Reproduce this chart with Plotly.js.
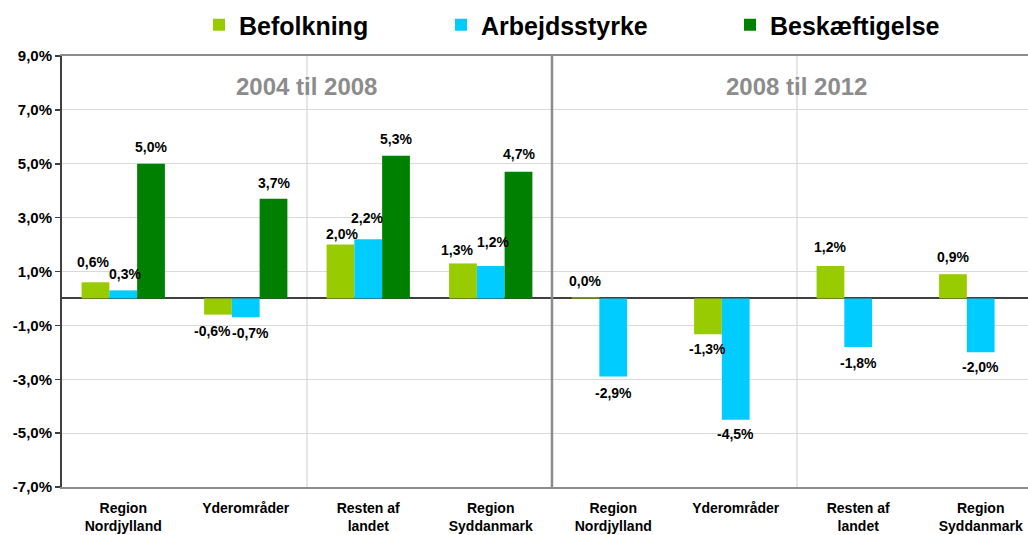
<!DOCTYPE html>
<html>
<head>
<meta charset="utf-8">
<script src="https://cdn.plot.ly/plotly-3.0.1.min.js"></script>
<style>html,body{margin:0;padding:0;background:#fff}#chart{width:1028px;height:535px}</style>
</head>
<body>
<div id="chart"></div>
<script>
// ---- data ----
const categories = ['Region<br>Nordjylland','Yderområder','Resten af<br>landet','Region<br>Syddanmark',
                    'Region<br>Nordjylland','Yderområder','Resten af<br>landet','Region<br>Syddanmark'];
const periods = ['2004 til 2008','2008 til 2012'];
const seriesNames = ['Befolkning','Arbejdsstyrke','Beskæftigelse'];
const befolkning    = [0.6, -0.6, 2.0, 1.3, 0.04, -1.33, 1.2, 0.9];
const arbejdsstyrke = [0.3, -0.7, 2.2, 1.2, -2.9, -4.5, -1.8, -2.0];
const beskaeftigelse= [5.0, 3.7, 5.3, 4.7, null, null, null, null];
const yTicks = [-7,-5,-3,-1,1,3,5,7,9];

// ---- styling ----
const colors = ['#99CC00','#00CCFF','#008000'];
const FONT = 'Liberation Sans, Arial, sans-serif';
const BARGAP = 0.32;
// distance (px) of each value label's centre from its bar end, and small horizontal nudges
const labelGap   = [[20,16,11,13,16,15,19,17],[16,16,21,24,16,14,16,15],[17,16,17,18,0,0,0,0]];
const labelNudge = [[-2,-5,2,-6,0,0,0,0],[2,5,-1,2,0,0,0,0],[0,0,0,0,0,0,0,0]];

const fmt = v => (v === null ? '' : (v < 0 ? '-' : '') + Math.abs(v).toFixed(1).replace('.', ',') + '%');
const xIdx = categories.map((c, i) => i);

const seriesData = [befolkning, arbejdsstyrke, beskaeftigelse];
const legendIds = ['legend','legend2','legend3'];
const traces = seriesData.map((vals, k) => ({
  type: 'bar',
  name: seriesNames[k],
  x: xIdx,
  y: vals,
  marker: {color: colors[k], line: {width: 0}},
  hoverinfo: 'none',
  legend: legendIds[k]
}));

// value labels placed at each bar's slot within the group
const slot = (1 - BARGAP) / seriesData.length;
const valueLabels = [];
seriesData.forEach((vals, k) => {
  vals.forEach((v, i) => {
    if (v === null) return;
    const up = v >= 0;
    valueLabels.push({
      text: fmt(v), x: i + (k - (seriesData.length - 1) / 2) * slot, y: v,
      xref: 'x', yref: 'y', showarrow: false, xanchor: 'center', yanchor: 'middle',
      yshift: up ? labelGap[k][i] : -labelGap[k][i], xshift: labelNudge[k][i],
      font: {family: FONT, size: 14, color: '#000', weight: 'bold'}
    });
  });
});

const periodLabels = periods.map((p, i) => ({
  text: p, x: 1.5 + 4*i, y: 7.88, xref: 'x', yref: 'y', showarrow: false,
  font: {family: FONT, size: 24, color: '#8c8c8c', weight: 'bold'}
}));

const legendBase = {
  orientation: 'h', xref: 'container', yref: 'container', yanchor: 'middle', y: 1 - 25/535,
  xanchor: 'left', bgcolor: 'rgba(0,0,0,0)',
  font: {family: FONT, size: 25, color: '#000', weight: 'bold'}
};

const layout = {
  width: 1028, height: 535,
  margin: {l: 62, r: 0, t: 56, b: 48},
  paper_bgcolor: '#fff', plot_bgcolor: '#fff',
  separators: ',.',
  barmode: 'group', bargap: BARGAP, bargroupgap: 0,
  showlegend: true,
  legend:  Object.assign({}, legendBase, {x: 199/1028}),
  legend2: Object.assign({}, legendBase, {x: 441/1028}),
  legend3: Object.assign({}, legendBase, {x: 730/1028}),
  xaxis: {
    range: [-0.5, 7.386], tickvals: xIdx, ticktext: categories,
    showgrid: false, zeroline: false, showline: true, linecolor: '#8c8c8c', linewidth: 2, mirror: true,
    ticks: '', ticklabelstandoff: 7,
    tickfont: {family: FONT, size: 14, color: '#000', weight: 'bold'},
    fixedrange: true
  },
  yaxis: {
    range: [-7, 9], tickvals: yTicks, ticktext: yTicks.map(fmt),
    showgrid: true, gridcolor: '#d9d9d9', gridwidth: 1,
    zeroline: true, zerolinecolor: '#404040', zerolinewidth: 2,
    showline: true, linecolor: '#404040', linewidth: 2,
    ticks: 'outside', ticklen: 5, tickcolor: '#404040', tickwidth: 1.5,
    tickfont: {family: FONT, size: 15, color: '#000', weight: 'bold'},
    fixedrange: true
  },
  shapes: [
    {type: 'line', xref: 'x', yref: 'y', x0: 1.5, x1: 1.5, y0: -7, y1: 9, line: {color: '#cfcfcf', width: 1}, layer: 'below'},
    {type: 'line', xref: 'x', yref: 'y', x0: 5.5, x1: 5.5, y0: -7, y1: 9, line: {color: '#cfcfcf', width: 1}, layer: 'below'},
    {type: 'line', xref: 'x', yref: 'y', x0: 3.5, x1: 3.5, y0: -7.15, y1: 9, line: {color: '#8c8c8c', width: 2.5}, layer: 'above'}
  ],
  annotations: periodLabels.concat(valueLabels)
};

Plotly.newPlot('chart', traces, layout, {staticPlot: true, displayModeBar: false});
</script>
</body>
</html>
